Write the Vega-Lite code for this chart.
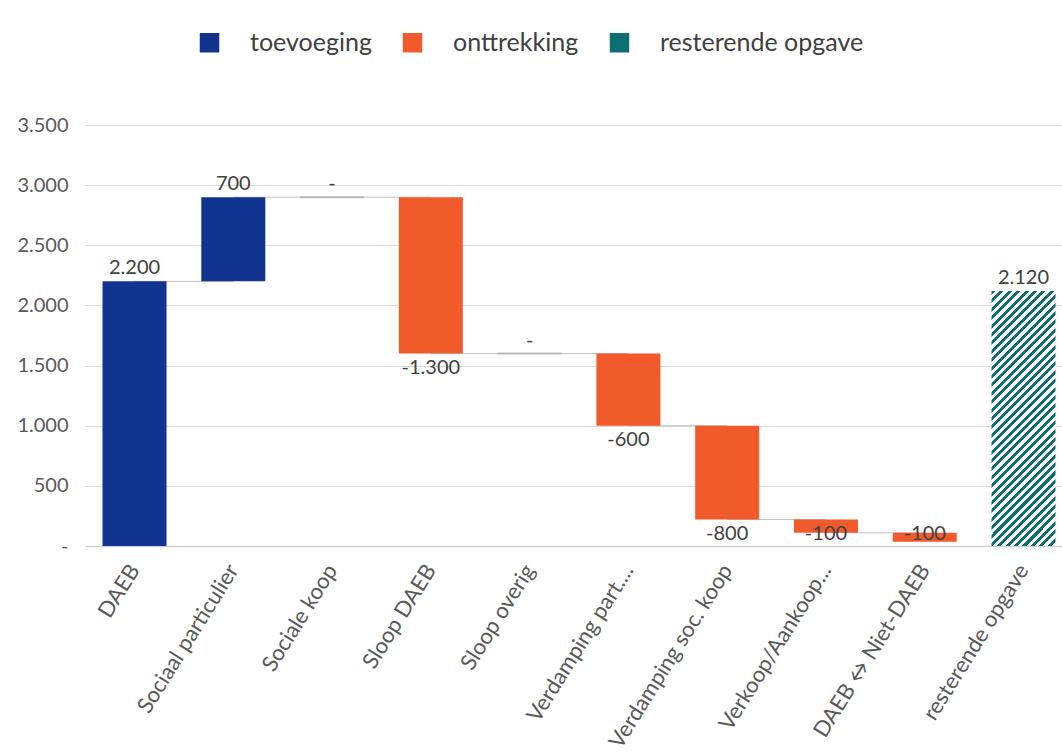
{
  "$schema": "https://vega.github.io/schema/vega-lite/v6.json",
  "autosize": {"type": "none"},
  "width": 977,
  "height": 421,
  "padding": {"left": 85, "top": 125, "right": 0, "bottom": 210},
  "background": "white",
  "config": {
    "font": "Lato",
    "view": {"stroke": null},
    "legend": {
      "orient": "none",
      "legendX": 112,
      "legendY": -95,
      "direction": "horizontal",
      "symbolType": "square",
      "symbolSize": 380,
      "symbolStrokeWidth": 0,
      "labelFontSize": 25,
      "labelColor": "#404040",
      "labelFont": "Lato",
      "labelLimit": 400,
      "columnPadding": 28,
      "labelOffset": 28,
      "padding": 0
    }
  },
  "data": {
    "values": [
      {"cat": "DAEB", "start": 0, "end": 2200, "type": "toevoeging", "label": "2.200", "next": "Sociaal particulier"},
      {"cat": "Sociaal particulier", "start": 2200, "end": 2900, "type": "toevoeging", "label": "700", "next": "Sociale koop"},
      {"cat": "Sociale koop", "start": 2900, "end": 2900, "type": "toevoeging", "label": "-", "next": "Sloop DAEB"},
      {"cat": "Sloop DAEB", "start": 2900, "end": 1600, "type": "onttrekking", "label": "-1.300", "next": "Sloop overig"},
      {"cat": "Sloop overig", "start": 1600, "end": 1600, "type": "onttrekking", "label": "-", "next": "Verdamping part...."},
      {"cat": "Verdamping part....", "start": 1600, "end": 1000, "type": "onttrekking", "label": "-600", "next": "Verdamping soc. koop"},
      {"cat": "Verdamping soc. koop", "start": 1000, "end": 220, "type": "onttrekking", "label": "-800", "next": "Verkoop/Aankoop..."},
      {"cat": "Verkoop/Aankoop...", "start": 220, "end": 110, "type": "onttrekking", "label": "-100", "next": "DAEB ↔ Niet-DAEB"},
      {"cat": "DAEB ↔ Niet-DAEB", "start": 110, "end": 35, "type": "onttrekking", "label": "-100", "next": null},
      {"cat": "resterende opgave", "start": 0, "end": 2120, "type": "resterende opgave", "label": "2.120", "next": null}
    ]
  },
  "encoding": {
    "x": {
      "field": "cat",
      "type": "nominal",
      "sort": null,
      "scale": {
        "domain": ["DAEB", "Sociaal particulier", "Sociale koop", "Sloop DAEB", "Sloop overig", "Verdamping part....", "Verdamping soc. koop", "Verkoop/Aankoop...", "DAEB ↔ Niet-DAEB", "resterende opgave"],
        "paddingInner": 0.352,
        "paddingOuter": 0.1215,
        "align": 0.73
      },
      "axis": {
        "title": null,
        "labelAngle": -58,
        "labelFontSize": 22,
        "labelColor": "#595959",
        "labelPadding": 20,
        "ticks": false,
        "domain": true,
        "domainColor": "#d0d0d0",
        "domainWidth": 1.5,
        "labelLimit": 400
      }
    }
  },
  "layer": [
    {
      "layer": [
        {
          "transform": [{"filter": "datum.next != null"}],
          "mark": {"type": "rule", "color": "#c0c0c0", "strokeWidth": 1},
          "encoding": {
            "x2": {"field": "next"},
            "y": {"field": "end", "type": "quantitative", "scale": {"domain": [0, 3500], "nice": false, "zero": true},
              "axis": {
                "title": null,
                "values": [0, 500, 1000, 1500, 2000, 2500, 3000, 3500],
                "labelExpr": "datum.value == 0 ? '-' : replace(format(datum.value, ','), ',', '.')",
                "domain": false,
                "ticks": false,
                "grid": true,
                "gridColor": "#d9d9d9",
                "gridWidth": 1,
                "labelFontSize": 20,
                "labelColor": "#595959",
                "labelPadding": 17
              }
            }
          }
        },
        {
          "transform": [{"filter": "datum.type != 'resterende opgave'"}],
          "mark": {"type": "bar"},
          "encoding": {
            "y": {"field": "start", "type": "quantitative"},
            "y2": {"field": "end"},
            "color": {
              "field": "type",
              "type": "nominal",
              "title": null,
              "scale": {
                "domain": ["toevoeging", "onttrekking", "resterende opgave"],
                "range": ["#10348f", "#f15b2b", "#0f6e72"]
              }
            }
          }
        },
        {
          "transform": [{"filter": "datum.type == 'resterende opgave'"}],
          "mark": {
            "type": "bar",
            "fill": {
              "gradient": "linear",
              "x1": 0, "y1": 0, "x2": 0.2955, "y2": 1.177,
              "stops": [
                {"offset": 0, "color": "#0f6e72"}, {"offset": 0.01263, "color": "#0f6e72"}, {"offset": 0.01263, "color": "#ffffff"}, {"offset": 0.02632, "color": "#ffffff"},
                {"offset": 0.02632, "color": "#0f6e72"}, {"offset": 0.03895, "color": "#0f6e72"}, {"offset": 0.03895, "color": "#ffffff"}, {"offset": 0.05263, "color": "#ffffff"},
                {"offset": 0.05263, "color": "#0f6e72"}, {"offset": 0.06526, "color": "#0f6e72"}, {"offset": 0.06526, "color": "#ffffff"}, {"offset": 0.07895, "color": "#ffffff"},
                {"offset": 0.07895, "color": "#0f6e72"}, {"offset": 0.09158, "color": "#0f6e72"}, {"offset": 0.09158, "color": "#ffffff"}, {"offset": 0.10526, "color": "#ffffff"},
                {"offset": 0.10526, "color": "#0f6e72"}, {"offset": 0.11789, "color": "#0f6e72"}, {"offset": 0.11789, "color": "#ffffff"}, {"offset": 0.13158, "color": "#ffffff"},
                {"offset": 0.13158, "color": "#0f6e72"}, {"offset": 0.14421, "color": "#0f6e72"}, {"offset": 0.14421, "color": "#ffffff"}, {"offset": 0.15789, "color": "#ffffff"},
                {"offset": 0.15789, "color": "#0f6e72"}, {"offset": 0.17053, "color": "#0f6e72"}, {"offset": 0.17053, "color": "#ffffff"}, {"offset": 0.18421, "color": "#ffffff"},
                {"offset": 0.18421, "color": "#0f6e72"}, {"offset": 0.19684, "color": "#0f6e72"}, {"offset": 0.19684, "color": "#ffffff"}, {"offset": 0.21053, "color": "#ffffff"},
                {"offset": 0.21053, "color": "#0f6e72"}, {"offset": 0.22316, "color": "#0f6e72"}, {"offset": 0.22316, "color": "#ffffff"}, {"offset": 0.23684, "color": "#ffffff"},
                {"offset": 0.23684, "color": "#0f6e72"}, {"offset": 0.24947, "color": "#0f6e72"}, {"offset": 0.24947, "color": "#ffffff"}, {"offset": 0.26316, "color": "#ffffff"},
                {"offset": 0.26316, "color": "#0f6e72"}, {"offset": 0.27579, "color": "#0f6e72"}, {"offset": 0.27579, "color": "#ffffff"}, {"offset": 0.28947, "color": "#ffffff"},
                {"offset": 0.28947, "color": "#0f6e72"}, {"offset": 0.30211, "color": "#0f6e72"}, {"offset": 0.30211, "color": "#ffffff"}, {"offset": 0.31579, "color": "#ffffff"},
                {"offset": 0.31579, "color": "#0f6e72"}, {"offset": 0.32842, "color": "#0f6e72"}, {"offset": 0.32842, "color": "#ffffff"}, {"offset": 0.34211, "color": "#ffffff"},
                {"offset": 0.34211, "color": "#0f6e72"}, {"offset": 0.35474, "color": "#0f6e72"}, {"offset": 0.35474, "color": "#ffffff"}, {"offset": 0.36842, "color": "#ffffff"},
                {"offset": 0.36842, "color": "#0f6e72"}, {"offset": 0.38105, "color": "#0f6e72"}, {"offset": 0.38105, "color": "#ffffff"}, {"offset": 0.39474, "color": "#ffffff"},
                {"offset": 0.39474, "color": "#0f6e72"}, {"offset": 0.40737, "color": "#0f6e72"}, {"offset": 0.40737, "color": "#ffffff"}, {"offset": 0.42105, "color": "#ffffff"},
                {"offset": 0.42105, "color": "#0f6e72"}, {"offset": 0.43368, "color": "#0f6e72"}, {"offset": 0.43368, "color": "#ffffff"}, {"offset": 0.44737, "color": "#ffffff"},
                {"offset": 0.44737, "color": "#0f6e72"}, {"offset": 0.46, "color": "#0f6e72"}, {"offset": 0.46, "color": "#ffffff"}, {"offset": 0.47368, "color": "#ffffff"},
                {"offset": 0.47368, "color": "#0f6e72"}, {"offset": 0.48632, "color": "#0f6e72"}, {"offset": 0.48632, "color": "#ffffff"}, {"offset": 0.5, "color": "#ffffff"},
                {"offset": 0.5, "color": "#0f6e72"}, {"offset": 0.51263, "color": "#0f6e72"}, {"offset": 0.51263, "color": "#ffffff"}, {"offset": 0.52632, "color": "#ffffff"},
                {"offset": 0.52632, "color": "#0f6e72"}, {"offset": 0.53895, "color": "#0f6e72"}, {"offset": 0.53895, "color": "#ffffff"}, {"offset": 0.55263, "color": "#ffffff"},
                {"offset": 0.55263, "color": "#0f6e72"}, {"offset": 0.56526, "color": "#0f6e72"}, {"offset": 0.56526, "color": "#ffffff"}, {"offset": 0.57895, "color": "#ffffff"},
                {"offset": 0.57895, "color": "#0f6e72"}, {"offset": 0.59158, "color": "#0f6e72"}, {"offset": 0.59158, "color": "#ffffff"}, {"offset": 0.60526, "color": "#ffffff"},
                {"offset": 0.60526, "color": "#0f6e72"}, {"offset": 0.61789, "color": "#0f6e72"}, {"offset": 0.61789, "color": "#ffffff"}, {"offset": 0.63158, "color": "#ffffff"},
                {"offset": 0.63158, "color": "#0f6e72"}, {"offset": 0.64421, "color": "#0f6e72"}, {"offset": 0.64421, "color": "#ffffff"}, {"offset": 0.65789, "color": "#ffffff"},
                {"offset": 0.65789, "color": "#0f6e72"}, {"offset": 0.67053, "color": "#0f6e72"}, {"offset": 0.67053, "color": "#ffffff"}, {"offset": 0.68421, "color": "#ffffff"},
                {"offset": 0.68421, "color": "#0f6e72"}, {"offset": 0.69684, "color": "#0f6e72"}, {"offset": 0.69684, "color": "#ffffff"}, {"offset": 0.71053, "color": "#ffffff"},
                {"offset": 0.71053, "color": "#0f6e72"}, {"offset": 0.72316, "color": "#0f6e72"}, {"offset": 0.72316, "color": "#ffffff"}, {"offset": 0.73684, "color": "#ffffff"},
                {"offset": 0.73684, "color": "#0f6e72"}, {"offset": 0.74947, "color": "#0f6e72"}, {"offset": 0.74947, "color": "#ffffff"}, {"offset": 0.76316, "color": "#ffffff"},
                {"offset": 0.76316, "color": "#0f6e72"}, {"offset": 0.77579, "color": "#0f6e72"}, {"offset": 0.77579, "color": "#ffffff"}, {"offset": 0.78947, "color": "#ffffff"},
                {"offset": 0.78947, "color": "#0f6e72"}, {"offset": 0.80211, "color": "#0f6e72"}, {"offset": 0.80211, "color": "#ffffff"}, {"offset": 0.81579, "color": "#ffffff"},
                {"offset": 0.81579, "color": "#0f6e72"}, {"offset": 0.82842, "color": "#0f6e72"}, {"offset": 0.82842, "color": "#ffffff"}, {"offset": 0.84211, "color": "#ffffff"},
                {"offset": 0.84211, "color": "#0f6e72"}, {"offset": 0.85474, "color": "#0f6e72"}, {"offset": 0.85474, "color": "#ffffff"}, {"offset": 0.86842, "color": "#ffffff"},
                {"offset": 0.86842, "color": "#0f6e72"}, {"offset": 0.88105, "color": "#0f6e72"}, {"offset": 0.88105, "color": "#ffffff"}, {"offset": 0.89474, "color": "#ffffff"},
                {"offset": 0.89474, "color": "#0f6e72"}, {"offset": 0.90737, "color": "#0f6e72"}, {"offset": 0.90737, "color": "#ffffff"}, {"offset": 0.92105, "color": "#ffffff"},
                {"offset": 0.92105, "color": "#0f6e72"}, {"offset": 0.93368, "color": "#0f6e72"}, {"offset": 0.93368, "color": "#ffffff"}, {"offset": 0.94737, "color": "#ffffff"},
                {"offset": 0.94737, "color": "#0f6e72"}, {"offset": 0.96, "color": "#0f6e72"}, {"offset": 0.96, "color": "#ffffff"}, {"offset": 0.97368, "color": "#ffffff"},
                {"offset": 0.97368, "color": "#0f6e72"}, {"offset": 0.98632, "color": "#0f6e72"}, {"offset": 0.98632, "color": "#ffffff"}, {"offset": 1, "color": "#ffffff"}
              ]
            }
          },
          "encoding": {
            "y": {"field": "start", "type": "quantitative"},
            "y2": {"field": "end"}
          }
        },
        {
          "transform": [{"filter": "datum.start == datum.end"}],
          "mark": {"type": "tick", "orient": "horizontal", "color": "#a8a8a8", "thickness": 2, "size": 64},
          "encoding": {
            "y": {"field": "end", "type": "quantitative"}
          }
        },
        {
          "transform": [{"filter": "datum.type != 'onttrekking' || datum.start == datum.end"}],
          "mark": {"type": "text", "baseline": "bottom", "dy": -3, "fontSize": 20, "color": "#404040"},
          "encoding": {
            "y": {"field": "end", "type": "quantitative"},
            "text": {"field": "label"}
          }
        }
      ]
    },
    {
      "transform": [{"filter": "datum.type == 'onttrekking' && datum.start != datum.end"}],
      "mark": {"type": "text", "baseline": "top", "dy": 4, "fontSize": 20, "color": "#404040"},
      "encoding": {
        "y": {
          "field": "end",
          "type": "quantitative",
          "scale": {"domain": [0, 220, 3500], "range": [394.5, 394.5, 0], "nice": false, "zero": false},
          "axis": null
        },
        "text": {"field": "label"}
      }
    }
  ],
  "resolve": {"scale": {"y": "independent"}}
}
